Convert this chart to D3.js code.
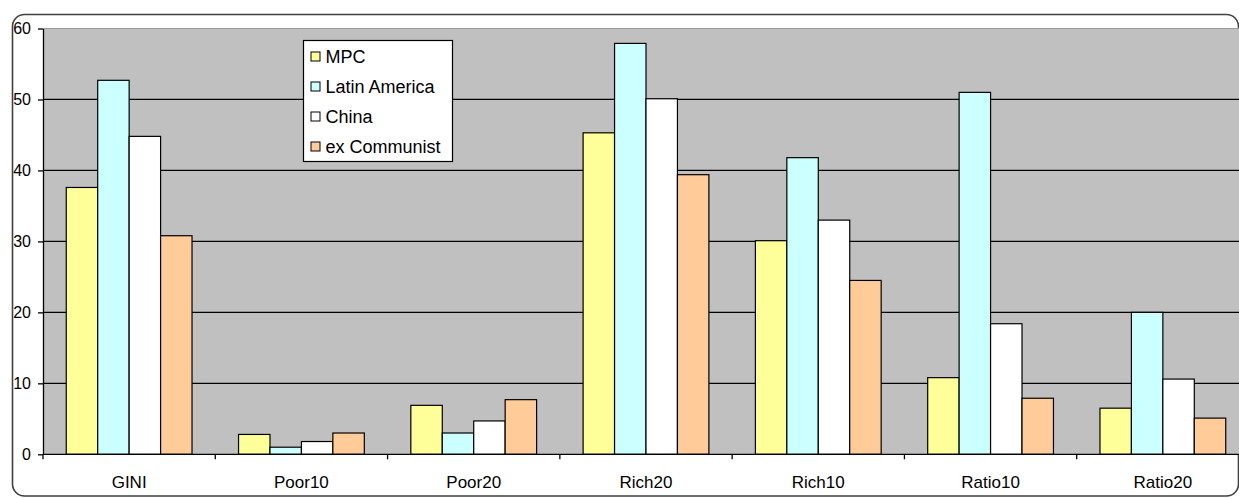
<!DOCTYPE html>
<html>
<head>
<meta charset="utf-8">
<script src="https://cdn.jsdelivr.net/npm/d3@7/dist/d3.min.js"></script>
<style>
  html, body { margin: 0; padding: 0; background: #fff; }
  svg { display: block; font-family: "Liberation Sans", Arial, sans-serif; }
</style>
</head>
<body>
<svg id="chart" width="1239" height="498"></svg>
<script>
// Inequality indicators by region group
const categories = ["GINI", "Poor10", "Poor20", "Rich20", "Rich10", "Ratio10", "Ratio20"];
const seriesNames = ["MPC", "Latin America", "China", "ex Communist"];
const mpc          = [37.6, 2.8, 6.9, 45.3, 30.1, 10.8, 6.5];
const latinAmerica = [52.7, 1.0, 3.0, 57.9, 41.8, 51.0, 20.0];
const china        = [44.8, 1.8, 4.7, 50.1, 33.0, 18.4, 10.6];
const exCommunist  = [30.8, 3.0, 7.7, 39.4, 24.5, 7.9, 5.1];
const yTicks = [0, 10, 20, 30, 40, 50, 60];
const colors = ["#FFFF99", "#CCFFFF", "#FFFFFF", "#FFCC99"];

const seriesValues = [mpc, latinAmerica, china, exCommunist];
const rows = categories.map((c, i) => ({
  category: c,
  values: seriesNames.map((s, j) => ({ series: s, value: seriesValues[j][i], color: colors[j] }))
}));

const svg = d3.select("#chart");

// Outer chart frame with rounded corners
svg.append("rect")
  .attr("x", 12.5).attr("y", 14.5)
  .attr("width", 1226).attr("height", 481.5)
  .attr("rx", 12).attr("ry", 12)
  .attr("fill", "#fff")
  .attr("stroke", "#404040")
  .attr("stroke-width", 1.6);

const plot = { left: 43, top: 28.5, right: 1249, bottom: 454.3 };

const x0 = d3.scaleBand()
  .domain(categories)
  .range([plot.left, plot.right])
  .padding(0);

const gap = x0.bandwidth() * 0.135;
const x1 = d3.scaleBand()
  .domain(seriesNames)
  .range([gap, x0.bandwidth() - gap])
  .padding(0);

const y = d3.scaleLinear().domain([0, 60]).range([plot.bottom, plot.top]);

// Plot area background
svg.append("rect")
  .attr("x", plot.left).attr("y", plot.top)
  .attr("width", plot.right - plot.left).attr("height", plot.bottom - plot.top)
  .attr("fill", "#C0C0C0");

// Top edge of the plot area
svg.append("line")
  .attr("x1", plot.left).attr("x2", plot.right)
  .attr("y1", y(60)).attr("y2", y(60))
  .attr("stroke", "#9a9a9a").attr("stroke-width", 1);

// Horizontal gridlines
svg.append("g")
  .selectAll("line")
  .data(yTicks.filter(t => t > 0 && t < 60))
  .join("line")
  .attr("x1", plot.left).attr("x2", plot.right)
  .attr("y1", d => y(d)).attr("y2", d => y(d))
  .attr("stroke", "#000").attr("stroke-width", 1.2);

// Bars
const groups = svg.append("g")
  .selectAll("g")
  .data(rows)
  .join("g")
  .attr("transform", d => `translate(${x0(d.category)},0)`);

groups.selectAll("rect")
  .data(d => d.values)
  .join("rect")
  .attr("x", d => x1(d.series))
  .attr("y", d => y(d.value))
  .attr("width", x1.bandwidth())
  .attr("height", d => y(0) - y(d.value))
  .attr("fill", d => d.color)
  .attr("stroke", "#000")
  .attr("stroke-width", 1.2);

// Y axis
const yAxis = d3.axisLeft(y).tickValues(yTicks).tickSize(5).tickPadding(7).tickSizeOuter(0);
const gy = svg.append("g")
  .attr("transform", `translate(${plot.left},0)`)
  .call(yAxis);
gy.select(".domain").attr("stroke", "#000").attr("stroke-width", 1.3);
gy.selectAll(".tick line").attr("stroke", "#000").attr("stroke-width", 1.3);
gy.selectAll(".tick text")
  .attr("font-size", 16)
  .attr("fill", "#000")
  .attr("font-family", "'Liberation Sans', Arial, sans-serif");

// X axis: ticks on category boundaries, labels centred in each category
const gx = svg.append("g")
  .attr("transform", `translate(0,${plot.bottom})`);
gx.append("line")
  .attr("x1", plot.left).attr("x2", plot.right)
  .attr("stroke", "#000").attr("stroke-width", 1.3);
gx.selectAll("line.tick")
  .data(categories)
  .join("line")
  .attr("class", "tick")
  .attr("x1", d => x0(d)).attr("x2", d => x0(d))
  .attr("y1", 0).attr("y2", 5)
  .attr("stroke", "#000").attr("stroke-width", 1.3);
gx.selectAll("text")
  .data(categories)
  .join("text")
  .attr("x", d => x0(d) + x0.bandwidth() / 2)
  .attr("y", 34)
  .attr("text-anchor", "middle")
  .attr("font-size", 17)
  .attr("fill", "#000")
  .text(d => d);

// Legend
const legend = svg.append("g").attr("transform", "translate(303.5,40.5)");
legend.append("rect")
  .attr("width", 149).attr("height", 121)
  .attr("fill", "#fff")
  .attr("stroke", "#000").attr("stroke-width", 1.2);
const items = legend.selectAll("g.item")
  .data(seriesNames)
  .join("g")
  .attr("class", "item")
  .attr("transform", (d, i) => `translate(0,${16 + i * 30})`);
items.append("rect")
  .attr("x", 7.5).attr("y", -4.5)
  .attr("width", 9).attr("height", 9)
  .attr("fill", (d, i) => colors[i])
  .attr("stroke", "#000").attr("stroke-width", 1);
items.append("text")
  .attr("x", 22)
  .attr("y", 6.5)
  .attr("font-size", 18)
  .attr("fill", "#000")
  .text(d => d);
</script>
</body>
</html>
